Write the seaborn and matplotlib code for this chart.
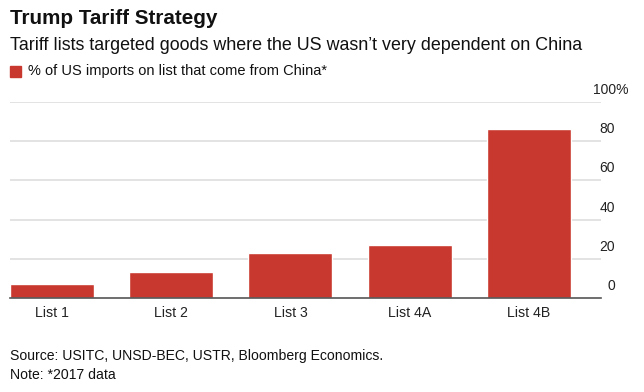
import matplotlib
matplotlib.use("Agg")
import matplotlib.pyplot as plt
import seaborn as sns
import pandas as pd

# data
lists = ["List 1", "List 2", "List 3", "List 4A", "List 4B"]
share_china = [7.2, 13.2, 23.1, 27.2, 86.2]
y_ticks = [0, 20, 40, 60, 80, 100]

bar_red = "#C9382E"

sns.set_style("white")
plt.rcParams["font.family"] = ["Liberation Sans", "DejaVu Sans"]

df = pd.DataFrame({"list": lists, "share": share_china})

fig = plt.figure(figsize=(6.44, 3.92), dpi=100)
ax = fig.add_axes([10 / 644, 94 / 392, 591 / 644, 196 / 392])

sns.barplot(data=df, x="list", y="share", color=bar_red, width=0.705,
            saturation=1, ax=ax, zorder=3)

ax.set_xlim(-0.3525, 4.605)
ax.set_ylim(0, 100)
ax.set_xlabel("")
ax.set_ylabel("")

# gridlines and axis line
for t in y_ticks[1:]:
    ax.axhline(t, color="#dedede", lw=1.2, zorder=1)
for s in ["top", "right", "left"]:
    ax.spines[s].set_visible(False)
ax.spines["bottom"].set_color("#555555")
ax.spines["bottom"].set_linewidth(1.2)
ax.spines["bottom"].set_zorder(4)

ax.set_yticks([])
ax.tick_params(axis="x", length=0, pad=6, labelsize=10.2, colors="#222222")

# y labels on the right, sitting above their gridlines
for t in y_ticks:
    lab = f"{t}%" if t == 100 else f"{t}"
    xpos = 628 / 644 if t == 100 else 615 / 644
    fig.text(xpos, (392 - (298 - t * 1.96) + 5) / 392, lab, ha="right",
             va="bottom", fontsize=10, color="#222222")

# titles and legend
fig.text(10 / 644, 1 - 19 / 392, "Trump Tariff Strategy", fontsize=14.9,
         fontweight="bold", va="center", color="#111111")
fig.text(10 / 644, 1 - 46 / 392,
         "Tariff lists targeted goods where the US wasn\u2019t very dependent on China",
         fontsize=12.9, va="center", color="#111111")
fig.patches.append(plt.Rectangle((10 / 644, 1 - 77 / 392), 11 / 644, 11 / 392,
                                 transform=fig.transFigure, color=bar_red))
fig.text(28 / 644, 1 - 71 / 392, "% of US imports on list that come from China*",
         fontsize=10.5, va="center", color="#111111")

fig.text(10 / 644, 1 - 356 / 392,
         "Source: USITC, UNSD-BEC, USTR, Bloomberg Economics.",
         fontsize=10.1, va="center", color="#111111")
fig.text(10 / 644, 1 - 375 / 392, "Note: *2017 data",
         fontsize=10.1, va="center", color="#111111")

fig.savefig("out.png", dpi=100)
